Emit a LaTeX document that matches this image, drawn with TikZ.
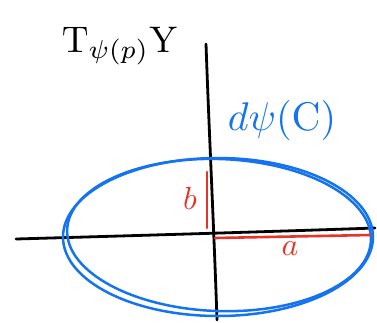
\documentclass[tikz,border=0pt]{standalone}
\usepackage{amsmath}
\definecolor{penblue}{RGB}{20,115,240}
\definecolor{penred}{RGB}{232,52,40}
\tikzset{
  axisline/.style={line width=2.8pt, black, line cap=round},
  curveline/.style={line width=2.5pt, penblue},
  redline/.style={line width=2.6pt, penred, line cap=round},
  lbl/.style={inner sep=0pt},
}
\begin{document}
\begin{tikzpicture}[x=1pt,y=-1pt]
\useasboundingbox (0,0) rectangle (377,322);
% axes
\coordinate (hl) at (16,239);
\coordinate (hr) at (375,228);
\coordinate (vt) at (206,44);
\coordinate (vb) at (217,320);
\draw[axisline] (hl) .. controls (120,236) and (260,232) .. (hr);
\draw[axisline] (vt) .. controls (209,130) and (214,230) .. (vb);
% ellipse (curve C image), drawn twice
\draw[curveline] (218,237) ellipse [x radius=155, y radius=79];
\draw[curveline, rotate around={-2:(218,236)}] (219,235) ellipse [x radius=152, y radius=76];
% red segments
\coordinate (bt) at (207,172);
\coordinate (bb) at (207,228);
\draw[redline] (bt) -- (bb);
\coordinate (al) at (215,238);
\coordinate (ar) at (370,235);
\draw[redline] (al) -- (ar);
\node[lbl, text=penred, scale=3.2] (b) at (190,198) {$b$};
\node[lbl, text=penred, scale=3.2] (a) at (290,249) {$a$};
% labels
\node[lbl, scale=3.7] (T) at (120,46) {$\mathrm{T}_{\psi(p)}\mathrm{Y}$};
\node[lbl, text=penblue, scale=4] (dC) at (282,120) {$d\psi(\mathrm{C})$};
\end{tikzpicture}
\end{document}
